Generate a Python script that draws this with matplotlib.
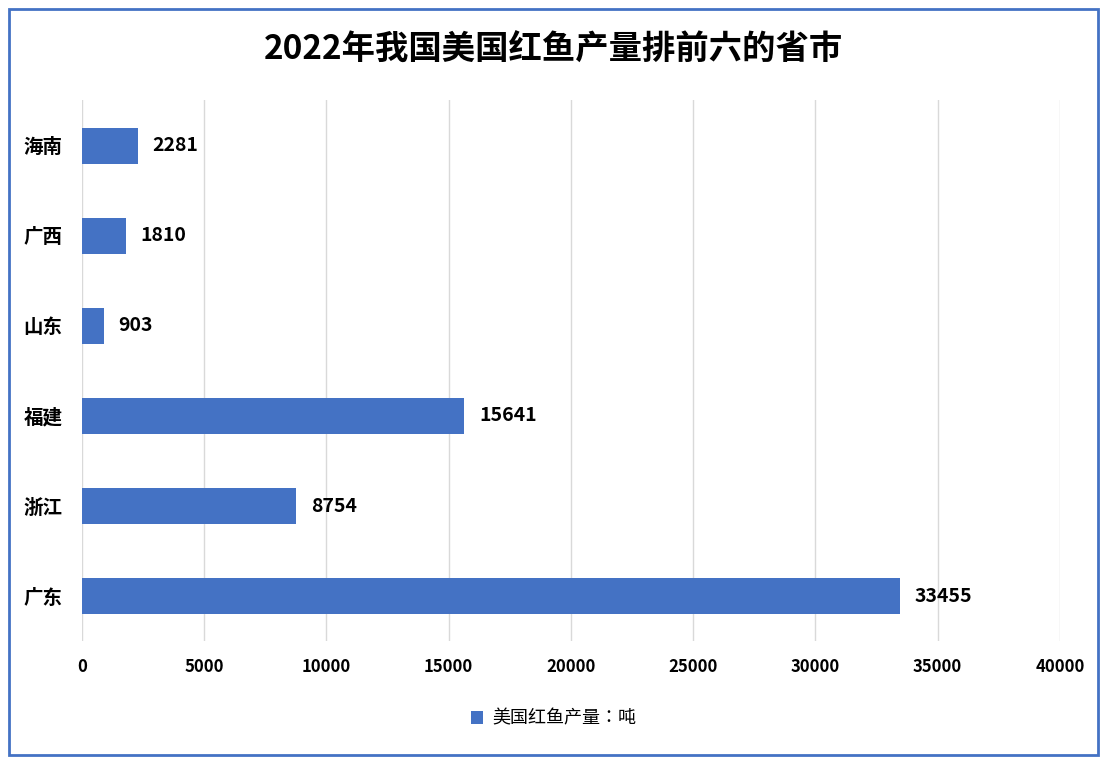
import matplotlib.pyplot as plt
from matplotlib import font_manager
from matplotlib.patches import Rectangle

cjk = [f.name for f in font_manager.fontManager.ttflist if 'CJK' in f.name]
cjk_name = 'Noto Sans CJK SC' if 'Noto Sans CJK SC' in cjk else (cjk[0] if cjk else 'DejaVu Sans')
plt.rcParams['font.family'] = 'sans-serif'
plt.rcParams['font.sans-serif'] = [cjk_name, 'DejaVu Sans']

# data
provinces = ['广东', '浙江', '福建', '山东', '广西', '海南']
output_tons = [33455, 8754, 15641, 903, 1810, 2281]
x_ticks = [0, 5000, 10000, 15000, 20000, 25000, 30000, 35000, 40000]

BAR_COLOR = '#4472C4'

fig = plt.figure(figsize=(11.07, 7.67), dpi=100)
ax = fig.add_axes([0.074, 0.164, 0.8835, 0.705])

bars = ax.barh(provinces, output_tons, height=0.4, color=BAR_COLOR, label='美国红鱼产量：吨')
for rect, val in zip(bars, output_tons):
    ax.text(rect.get_width() + 600, rect.get_y() + rect.get_height() / 2, str(val),
            va='center', ha='left', fontsize=14, fontweight='bold')

ax.set_xlim(0, 40000)
ax.set_ylim(-0.5, len(provinces) - 0.5)
ax.set_xticks(x_ticks)
ax.set_xticklabels([str(t) for t in x_ticks], fontsize=12, fontweight='bold')
ax.tick_params(axis='y', labelsize=14, length=0, pad=14)
ax.tick_params(axis='x', length=0, pad=12)
for lbl in ax.get_yticklabels():
    lbl.set_fontweight('bold')
ax.grid(axis='x', color='#d9d9d9', linewidth=1)
ax.set_axisbelow(True)
for s in ax.spines.values():
    s.set_visible(False)

fig.text(0.5, 0.935, '2022年我国美国红鱼产量排前六的省市', ha='center', va='center',
         fontsize=24, fontweight='bold')

fig.legend(loc='center', bbox_to_anchor=(0.5, 0.063), frameon=False, fontsize=13,
           handlelength=0.7, handleheight=0.7, handletextpad=0.5)

fig.patches.append(Rectangle((0.008, 0.015), 0.984, 0.973, transform=fig.transFigure,
                             fill=False, edgecolor='#4472C4', linewidth=2))

plt.savefig('out.png', dpi=100)
